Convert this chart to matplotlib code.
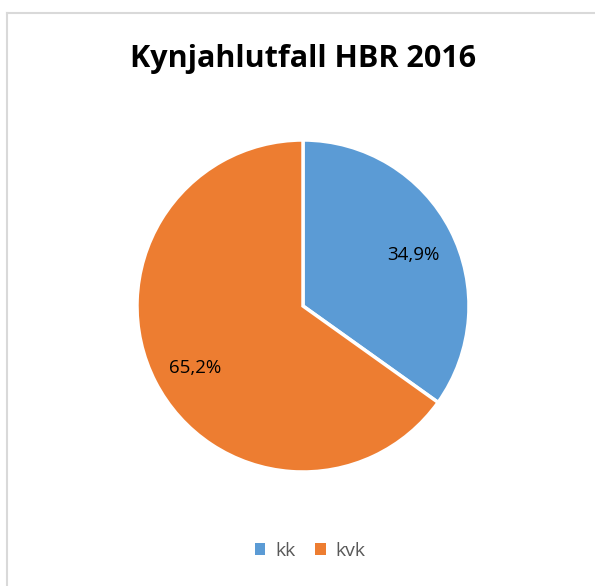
import matplotlib.pyplot as plt
import matplotlib.transforms as mtransforms
from matplotlib.lines import Line2D
from matplotlib.patches import Patch

plt.rcParams['font.family'] = ['Open Sans', 'DejaVu Sans']

categories = ['kk', 'kvk']
values = [34.9, 65.2]
labels = ['34,9%', '65,2%']
colors = ['#5B9BD5', '#ED7D31']

W, H = 595, 586
fig = plt.figure(figsize=(W / 100, H / 100), dpi=100)

# chart area border (only top and left visible)
fig.add_artist(Line2D([6.5 / W, 6.5 / W], [0, 1 - 12.5 / H], color='#d9d9d9', lw=1.5))
fig.add_artist(Line2D([6.5 / W, 1], [1 - 12.5 / H, 1 - 12.5 / H], color='#d9d9d9', lw=1.5))

fig.text(303 / W, 1 - 59 / H, 'Kynjahlutfall HBR 2016', ha='center', va='center',
         fontsize=22, fontweight='bold', color='black')

cx, cy, r = 303, 306, 166
ax = fig.add_axes([(cx - r) / W, 1 - (cy + r) / H, 2 * r / W, 2 * r / H])
wedges, texts = ax.pie(values, colors=colors, startangle=90, counterclock=False,
                       wedgeprops=dict(edgecolor='white', linewidth=2.5),
                       labels=labels, labeldistance=0.74,
                       textprops=dict(fontsize=13.5, color='black'))
shift = mtransforms.ScaledTranslation(1 / 72, -4 / 72, fig.dpi_scale_trans)
for t in texts:
    t.set_ha('center')
    t.set_va('center')
    t.set_transform(t.get_transform() + shift)
ax.set_aspect('auto')
ax.set_xlim(-1, 1)
ax.set_ylim(-1, 1)

handles = [Patch(facecolor=c, edgecolor='none') for c in colors]
fig.legend(handles, categories, loc='center', bbox_to_anchor=(310 / W, 1 - 551 / H),
           ncol=2, frameon=False, fontsize=14, handlelength=0.55, handleheight=0.55,
           handletextpad=0.5, columnspacing=1.0, labelcolor='#595959')

fig.savefig('out.png', dpi=100)
